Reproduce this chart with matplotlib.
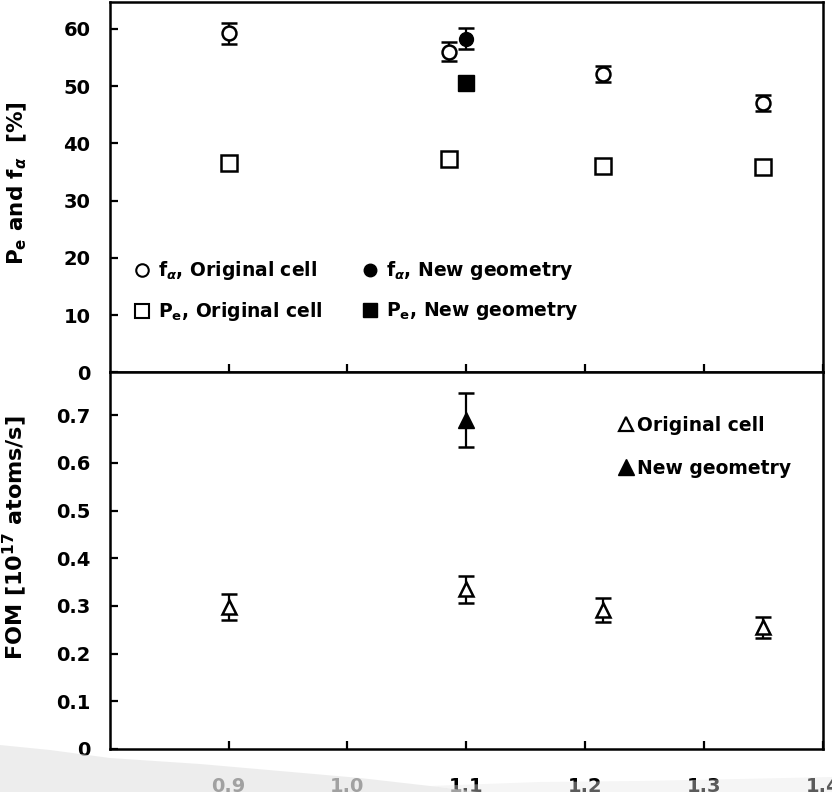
import matplotlib
matplotlib.use('Agg')
import matplotlib.pyplot as plt
from matplotlib.lines import Line2D
from matplotlib.patches import Polygon

plt.rcParams['font.family'] = 'DejaVu Sans'
plt.rcParams['font.weight'] = 'bold'
plt.rcParams['mathtext.fontset'] = 'dejavusans'

# f_alpha and P_e, original cell vs. new geometry
x_orig = [0.9, 1.085, 1.215, 1.35]
f_orig = [59.2, 56.0, 52.1, 47.1]
f_orig_err = [1.9, 1.7, 1.4, 1.4]
p_orig = [36.6, 37.2, 36.1, 35.9]

x_new = [1.1]
f_new = [58.3]
f_new_err = [1.8]
p_new = [50.5]

# figure of merit
x_fom_orig = [0.9, 1.1, 1.215, 1.35]
fom_orig = [0.298, 0.335, 0.291, 0.255]
fom_orig_err = [0.027, 0.028, 0.025, 0.022]
x_fom_new = [1.1]
fom_new = [0.69]
fom_new_err = [0.057]

xticks = [0.9, 1.0, 1.1, 1.2, 1.3, 1.4]
xtick_labels = ['0.9', '1.0', '1.1', '1.2', '1.3', '1.4']

fig = plt.figure(figsize=(8.32, 7.92), dpi=100)
ax1 = fig.add_axes([0.132, 0.530, 0.857, 0.4675])
ax2 = fig.add_axes([0.132, 0.0543, 0.857, 0.4757])

eb = dict(fmt='none', ecolor='black', elinewidth=1.6, capsize=5.5, capthick=1.8)

# upper panel
ax1.errorbar(x_orig, f_orig, yerr=f_orig_err, **eb)
ax1.errorbar(x_new, f_new, yerr=f_new_err, **eb)
ax1.plot(x_orig, f_orig, 'o', ms=10, mfc='white', mec='black', mew=1.8, ls='none', zorder=3)
ax1.plot(x_new, f_new, 'o', ms=10, mfc='black', mec='black', ls='none', zorder=3)
ax1.plot(x_orig, p_orig, 's', ms=11, mfc='white', mec='black', mew=1.8, ls='none', zorder=3)
ax1.plot(x_new, p_new, 's', ms=12, mfc='black', mec='black', ls='none', zorder=3)

ax1.set_xlim(0.8, 1.4)
ax1.set_ylim(0, 64.7)
ax1.set_yticks(range(0, 61, 10))
ax1.set_xticks(xticks)
ax1.set_xticklabels([])
ax1.set_ylabel(r'P$_\mathrm{e}$ and f$_\alpha$  [%]', fontsize=15.5, fontweight='bold')
ax1.yaxis.set_label_coords(-0.113, 0.51)

handles1 = [
    Line2D([], [], marker='o', ms=9, mfc='white', mec='black', mew=1.5, ls='none'),
    Line2D([], [], marker='s', ms=10, mfc='white', mec='black', mew=1.5, ls='none'),
    Line2D([], [], marker='o', ms=9, mfc='black', mec='black', ls='none'),
    Line2D([], [], marker='s', ms=10, mfc='black', mec='black', ls='none'),
]
labels1 = [r'f$_\alpha$, Original cell', r'P$_\mathrm{e}$, Original cell',
           r'f$_\alpha$, New geometry', r'P$_\mathrm{e}$, New geometry']
ax1.legend(handles1, labels1, ncol=2, frameon=False, loc='upper left',
           bbox_to_anchor=(0.025, 0.325), prop={'size': 13.5, 'weight': 'bold'},
           handlelength=0.7, handletextpad=0.5, columnspacing=2.2,
           labelspacing=0.95, borderaxespad=0)

# lower panel
ax2.errorbar(x_fom_orig, fom_orig, yerr=fom_orig_err, **eb)
ax2.errorbar(x_fom_new, fom_new, yerr=fom_new_err, **eb)
ax2.plot(x_fom_orig, fom_orig, '^', ms=10, mfc='white', mec='black', mew=1.8, ls='none', zorder=3)
ax2.plot(x_fom_new, fom_new, '^', ms=12, mfc='black', mec='black', ls='none', zorder=3)

ax2.set_xlim(0.8, 1.4)
ax2.set_ylim(0, 0.79)
ax2.set_yticks([0, 0.1, 0.2, 0.3, 0.4, 0.5, 0.6, 0.7])
ax2.set_yticklabels(['0', '0.1', '0.2', '0.3', '0.4', '0.5', '0.6', '0.7'])
ax2.set_xticks(xticks)
ax2.set_xticklabels(xtick_labels)
ax2.set_ylabel(r'FOM [10$^{17}$ atoms/s]', fontsize=16, fontweight='bold')
ax2.yaxis.set_label_coords(-0.113, 0.56)

handles2 = [
    Line2D([], [], marker='^', ms=10, mfc='white', mec='black', mew=1.6, ls='none'),
    Line2D([], [], marker='^', ms=11, mfc='black', mec='black', ls='none'),
]
ax2.legend(handles2, ['Original cell', 'New geometry'], frameon=False,
           loc='upper left', bbox_to_anchor=(0.705, 0.905),
           prop={'size': 13.5, 'weight': 'bold'}, handlelength=0.6,
           handletextpad=0.3, labelspacing=1.3, borderaxespad=0)

for ax in (ax1, ax2):
    for s in ax.spines.values():
        s.set_linewidth(1.8)
    ax.tick_params(axis='both', direction='in', length=6, width=1.6,
                   labelsize=14, top=False, right=False)
    ax.tick_params(axis='y', pad=14)
ax2.tick_params(axis='x', pad=20)

# light grey swoosh over the bottom edge
swoosh = [(0, 745), (50, 750), (110, 758), (200, 764), (280, 771), (360, 778),
          (430, 786), (480, 792), (0, 792)]
fig.patches.append(Polygon([(x / 832, 1 - y / 792) for x, y in swoosh],
                           closed=True, transform=fig.transFigure,
                           facecolor='#e6e6e6', edgecolor='none', alpha=0.7,
                           zorder=5))
band = [(430, 786), (540, 782), (640, 781), (740, 779), (832, 777), (832, 792), (480, 792)]
fig.patches.append(Polygon([(x / 832, 1 - y / 792) for x, y in band],
                           closed=True, transform=fig.transFigure,
                           facecolor='#e6e6e6', edgecolor='none', alpha=0.4,
                           zorder=5))

fig.savefig('out.png', dpi=100)
